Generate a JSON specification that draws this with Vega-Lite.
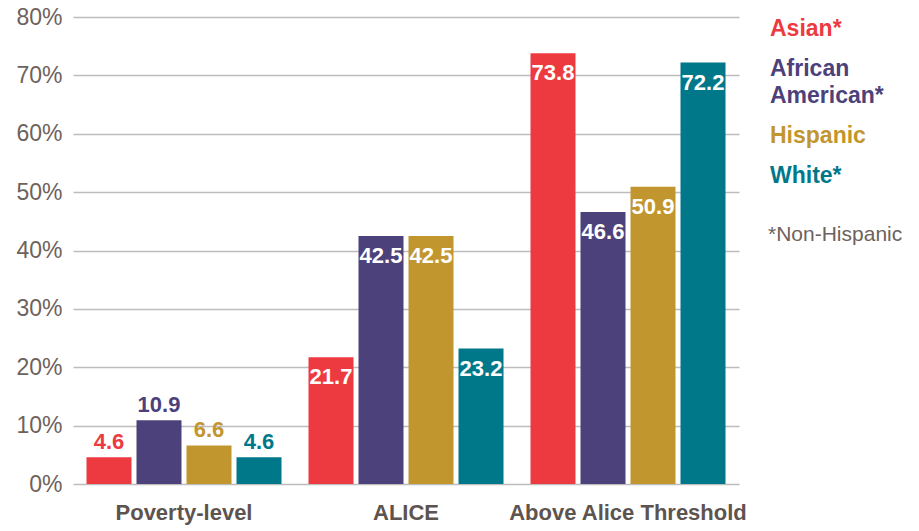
{
  "$schema": "https://vega.github.io/schema/vega-lite/v6.json",
  "width": 666,
  "height": 467,
  "padding": {"left": 15, "top": 6, "right": 5, "bottom": 5},
  "background": "white",
  "data": {
    "values": [
      {"level": "Poverty-level", "group": "Asian*", "value": 4.6},
      {"level": "Poverty-level", "group": "African American*", "value": 10.9},
      {"level": "Poverty-level", "group": "Hispanic", "value": 6.6},
      {"level": "Poverty-level", "group": "White*", "value": 4.6},
      {"level": "ALICE", "group": "Asian*", "value": 21.7},
      {"level": "ALICE", "group": "African American*", "value": 42.5},
      {"level": "ALICE", "group": "Hispanic", "value": 42.5},
      {"level": "ALICE", "group": "White*", "value": 23.2},
      {"level": "Above Alice Threshold", "group": "Asian*", "value": 73.8},
      {"level": "Above Alice Threshold", "group": "African American*", "value": 46.6},
      {"level": "Above Alice Threshold", "group": "Hispanic", "value": 50.9},
      {"level": "Above Alice Threshold", "group": "White*", "value": 72.2}
    ]
  },
  "encoding": {
    "x": {
      "field": "level", "type": "nominal", "sort": null,
      "scale": {"paddingInner": 0.1216, "paddingOuter": 0.0608},
      "axis": {"title": null, "labelAngle": 0, "domain": false, "ticks": false,
        "labelFont": "Liberation Sans", "labelFontSize": 22, "labelFontWeight": "bold",
        "labelColor": "#5d534f", "labelPadding": 18, "labelLimit": 400}
    },
    "xOffset": {
      "field": "group", "type": "nominal",
      "sort": ["Asian*", "African American*", "Hispanic", "White*"],
      "scale": {"paddingInner": 0.1, "paddingOuter": 0}
    },
    "y": {
      "field": "value", "type": "quantitative",
      "scale": {"domain": [0, 80], "nice": false},
      "axis": {"title": null, "values": [0, 10, 20, 30, 40, 50, 60, 70, 80],
        "labelExpr": "datum.value + '%'", "domain": false, "ticks": false,
        "grid": true, "gridColor": "#bdbdbd", "gridWidth": 1.5,
        "labelFont": "Liberation Sans", "labelFontSize": 23, "labelColor": "#6e625c",
        "labelPadding": 11}
    }
  },
  "layer": [
    {
      "mark": {"type": "bar"},
      "encoding": {
        "color": {
          "field": "group", "type": "nominal",
          "sort": ["Asian*", "African American*", "Hispanic", "White*"],
          "scale": {"domain": ["Asian*", "African American*", "Hispanic", "White*"],
                    "range": ["#ed3a40", "#4d417b", "#c2962f", "#00788a"]},
          "legend": {
            "title": "*Non-Hispanic",
            "orient": "right", "offset": 29, "padding": 0,
            "titleOrient": "bottom", "titleFont": "Liberation Sans", "titleFontSize": 21,
            "titleFontWeight": "normal", "titleColor": "#6e625c", "titlePadding": 36,
            "symbolOpacity": 0, "symbolSize": 1, "symbolStrokeWidth": 0, "labelOffset": -21,
            "labelFont": "Liberation Sans", "labelFontSize": 23, "labelFontWeight": "bold",
            "labelLimit": 300, "rowPadding": 16,
            "labelExpr": "datum.label == 'African American*' ? ['African', 'American*'] : datum.label",
            "encode": {"labels": {"update": {"fill": {"scale": "color", "field": "value"}, "lineHeight": {"value": 27}}}}
          }
        }
      }
    },
    {
      "transform": [{"filter": "datum.value < 15"}],
      "mark": {"type": "text", "baseline": "alphabetic", "dy": -8,
               "font": "Liberation Sans", "fontSize": 22, "fontWeight": "bold"},
      "encoding": {
        "text": {"field": "value", "type": "quantitative", "format": ".1f"},
        "color": {"field": "group", "type": "nominal", "legend": null}
      }
    },
    {
      "transform": [{"filter": "datum.value >= 15"}],
      "mark": {"type": "text", "baseline": "top", "dy": 10, "color": "white",
               "font": "Liberation Sans", "fontSize": 22, "fontWeight": "bold"},
      "encoding": {
        "text": {"field": "value", "type": "quantitative", "format": ".1f"}
      }
    }
  ],
  "config": {"view": {"stroke": null}}
}
